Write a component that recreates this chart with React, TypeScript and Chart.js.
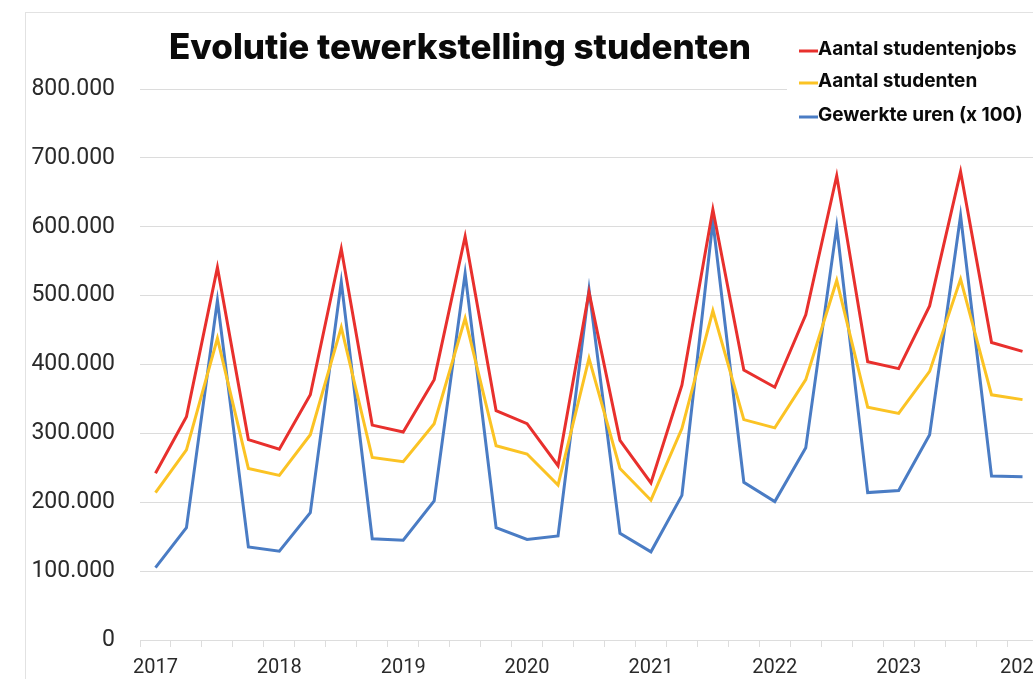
import React, { useEffect, useRef } from "react";
import { Chart, registerables } from "chart.js";

Chart.register(...registerables);

const categories = [
  "2017 K1", "2017 K2", "2017 K3", "2017 K4",
  "2018 K1", "2018 K2", "2018 K3", "2018 K4",
  "2019 K1", "2019 K2", "2019 K3", "2019 K4",
  "2020 K1", "2020 K2", "2020 K3", "2020 K4",
  "2021 K1", "2021 K2", "2021 K3", "2021 K4",
  "2022 K1", "2022 K2", "2022 K3", "2022 K4",
  "2023 K1", "2023 K2", "2023 K3", "2023 K4",
  "2024 K1",
];

const studentenjobs = [
  242000, 324000, 541000, 291000,
  277000, 356000, 568000, 312000,
  302000, 378000, 586000, 333000,
  314000, 253000, 505000, 290000,
  228000, 370000, 625000, 392000,
  367000, 472000, 674000, 404000,
  394000, 485000, 680000, 432000,
  419000,
];

const studenten = [
  214000, 276000, 438000, 249000,
  239000, 298000, 454000, 265000,
  259000, 314000, 467000, 282000,
  270000, 225000, 409000, 249000,
  203000, 307000, 478000, 320000,
  308000, 378000, 522000, 338000,
  329000, 390000, 524000, 356000,
  349000,
];

const gewerkteUren = [
  105000, 163000, 493000, 135000,
  129000, 185000, 520000, 147000,
  145000, 202000, 532000, 163000,
  146000, 151000, 509000, 155000,
  128000, 210000, 608000, 229000,
  201000, 279000, 600000, 214000,
  217000, 298000, 616000, 238000,
  237000,
];

const seriesNames = ["Aantal studentenjobs", "Aantal studenten", "Gewerkte uren (x 100)"];
const seriesColors = ["#E8302D", "#FBC324", "#4A7CC4"];
const titleText = "Evolutie tewerkstelling studenten";

function fmt(v: number): string {
  return String(Math.round(v)).replace(/\B(?=(\d{3})+(?!\d))/g, ".");
}

export default function App() {
  const ref = useRef<HTMLCanvasElement | null>(null);

  useEffect(() => {
    if (!ref.current) return;

    const overlay = {
      id: "overlay",
      beforeDatasetsDraw(chart: any) {
        const ctx = chart.ctx;
        ctx.save();
        ctx.fillStyle = "#ffffff";
        ctx.fillRect(761, 15, 400, 105);
        ctx.restore();
      },
      afterDraw(chart: any) {
        const ctx = chart.ctx;
        ctx.save();
        // title
        ctx.fillStyle = "#0a0a0a";
        ctx.font = "800 35px Inter";
        ctx.textAlign = "center";
        ctx.textBaseline = "alphabetic";
        ctx.fillText(titleText, 434, 46);
        // legend
        ctx.font = "700 19px Inter";
        ctx.textAlign = "left";
        ctx.textBaseline = "middle";
        const ys = [36, 68, 102];
        seriesNames.forEach((name, i) => {
          ctx.strokeStyle = seriesColors[i];
          ctx.lineWidth = 3;
          ctx.beginPath();
          ctx.moveTo(773, ys[i] + 2);
          ctx.lineTo(792, ys[i] + 2);
          ctx.stroke();
          ctx.fillStyle = "#0a0a0a";
          ctx.fillText(name, 792, ys[i]);
        });
        ctx.restore();
      },
    };

    const chart = new Chart(ref.current, {
      type: "line",
      data: {
        labels: categories,
        datasets: [
          { label: seriesNames[0], data: studentenjobs, borderColor: seriesColors[0], backgroundColor: seriesColors[0] },
          { label: seriesNames[1], data: studenten, borderColor: seriesColors[1], backgroundColor: seriesColors[1] },
          { label: seriesNames[2], data: gewerkteUren, borderColor: seriesColors[2], backgroundColor: seriesColors[2] },
        ].map((d) => ({ ...d, borderWidth: 3, pointRadius: 0, tension: 0, fill: false })),
      },
      options: {
        animation: false,
        responsive: false,
        maintainAspectRatio: false,
        layout: { padding: { top: 76, left: 0, right: 18, bottom: 14 } },
        plugins: { legend: { display: false }, title: { display: false }, tooltip: { enabled: false } },
        scales: {
          x: {
            offset: true,
            grid: { offset: true, drawOnChartArea: false, drawTicks: true, tickLength: 7, color: "#dddddd" },
            border: { display: true, color: "#dddddd" },
            ticks: {
              autoSkip: false,
              maxRotation: 0,
              padding: 9,
              color: "#2a2a2a",
              font: { family: "Roboto", size: 20 },
              callback: (_v: any, i: number) => (categories[i].endsWith("K1") ? categories[i].slice(0, 4) : ""),
            },
          },
          y: {
            min: 0,
            max: 800000,
            afterFit: (scale: any) => {
              scale.width = 114;
            },
            grid: { drawTicks: false, color: "#dcdcdc", lineWidth: 1 },
            border: { display: false },
            ticks: {
              stepSize: 100000,
              padding: 25,
              color: "#2a2a2a",
              font: { family: "Roboto", size: 23 },
              callback: (v: any) => fmt(Number(v)),
            },
          },
        },
      },
      plugins: [overlay],
    });

    return () => chart.destroy();
  }, []);

  return (
    <div style={{ position: "fixed", left: 0, top: 0, width: 1033, height: 679, overflow: "hidden", background: "#fff" }}>
      <div style={{ position: "absolute", left: 25, top: 12, border: "1px solid #e2e2e2", width: 1100, height: 720 }}>
        <canvas ref={ref} width={1030} height={690} style={{ display: "block", width: 1030, height: 690 }} />
      </div>
    </div>
  );
}
